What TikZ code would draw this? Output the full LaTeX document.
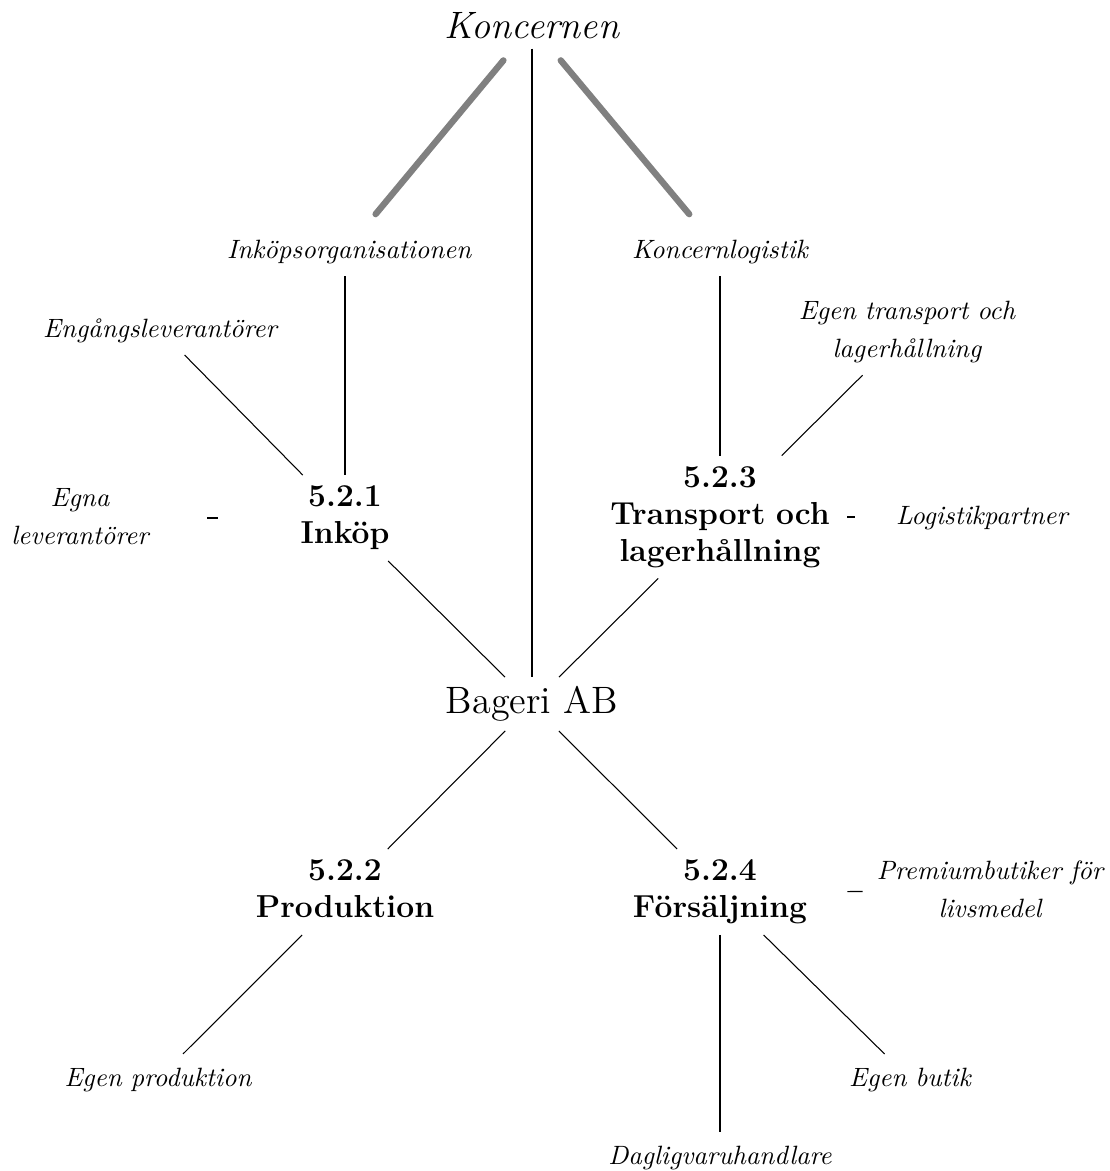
\documentclass[tikz,border=0pt]{standalone}
\usepackage{tikz}

\begin{document}
\begin{tikzpicture}[x=0.3774pt, y=-0.3774pt]
        \tikzset{dept/.style = {text width=89pt, align=center, inner xsep=3.33pt, inner ysep=2pt, font=\large\bfseries, execute at begin node=\strut, execute at end node=\strut}}
        \tikzset{party/.style = {dept, font=\fontsize{10}{14.5}\selectfont\itshape}}
        \tikzset{firm/.style = {font=\Large}}
        \tikzset{edgeg/.style = {line width=2.4pt, draw=gray, line cap=round, shorten <=5.8pt, shorten >=5.8pt}}
        \useasboundingbox (0,0) rectangle (1110,1171);
        % nodes
        \node[firm, font=\Large\itshape] (konc) at (532,26) {Koncernen};
        \node[firm] (bageri) at (532,704) {Bageri AB};
        \node[party] (inkorg) at (345,251) {Inköpsorganisationen};
        \node[party] (konclog) at (720,251) {Koncernlogistik};
        \node[party] (engang) at (160,330) {Engångsleverantörer};
        \node[party] (egentr) at (907,331) {Egen transport och\\ lagerhållning};
        \node[dept] (inkop) at (345,518) {5.2.1\\ Inköp};
        \node[party] (egna) at (80,518) {Egna\\ leverantörer};
        \node[dept] (transp) at (720,517) {5.2.3\\ Transport och\\ lagerhållning};
        \node[party] (logpart) at (982,517) {Logistikpartner};
        \node[dept] (prod) at (345,892) {5.2.2\\ Produktion};
        \node[dept] (fors) at (720,892) {5.2.4\\ Försäljning};
        \node[party] (premium) at (990,891) {Premiumbutiker för\\ livsmedel};
        \node[party] (egenprod) at (158,1079) {Egen produktion};
        \node[party] (butik) at (910,1079) {Egen butik};
        \node[party] (daglig) at (720,1157) {Dagligvaruhandlare};

        %edges group
        \draw (konc) -- (bageri);
        \draw[edgeg] (konc) -- (inkorg);
        \draw[edgeg] (konc) -- (konclog);
        %edges purchasing
        \draw (inkorg) -- (inkop);
        \draw (engang) -- (inkop);
        \draw (egna) -- (inkop);
        %edges logistics
        \draw (konclog) -- (transp);
        \draw (egentr) -- (transp);
        \draw (transp) -- (logpart);
        %edges company
        \draw (inkop) -- (bageri);
        \draw (transp) -- (bageri);
        \draw (bageri) -- (prod);
        \draw (bageri) -- (fors);
        %edges production and sales
        \draw (prod) -- (egenprod);
        \draw (fors) -- (daglig);
        \draw (fors) -- (butik);
        \draw (fors) -- (premium);
\end{tikzpicture}
\end{document}
